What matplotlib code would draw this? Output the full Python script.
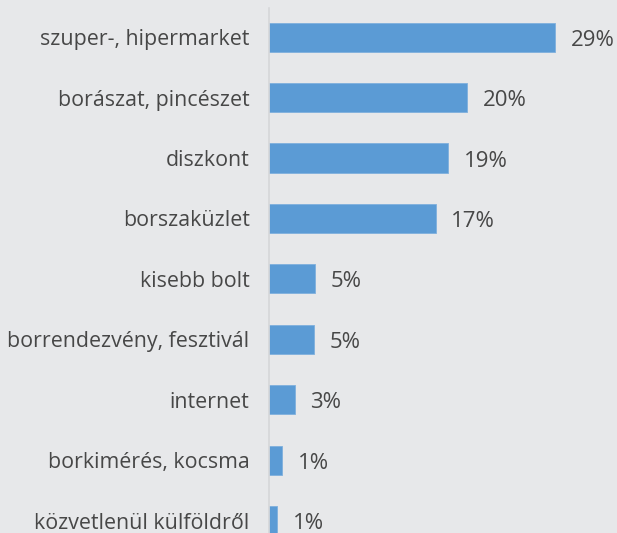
import matplotlib

matplotlib.use("Agg")
import matplotlib.pyplot as plt

categories = [
    "szuper-, hipermarket",
    "borászat, pincészet",
    "diszkont",
    "borszaküzlet",
    "kisebb bolt",
    "borrendezvény, fesztivál",
    "internet",
    "borkimérés, kocsma",
    "közvetlenül külföldről",
]
values = [29.0, 20.1, 18.2, 16.9, 4.7, 4.6, 2.6, 1.3, 0.8]
value_labels = ["29%", "20%", "19%", "17%", "5%", "5%", "3%", "1%", "1%"]

bg = "#E7E8EA"
bar_color = "#5B9BD5"
text_color = "#474747"

plt.rcParams["font.family"] = ["Open Sans", "DejaVu Sans"]

fig = plt.figure(figsize=(6.17, 5.33), dpi=100, facecolor=bg)
ax = fig.add_axes([269 / 617, 0.0, 1 - 269 / 617, 1 - 8 / 533])
ax.set_facecolor(bg)

pos = list(range(len(categories)))
ax.barh(pos, values, height=0.48, color=bar_color, edgecolor="#7FB0DD", linewidth=0.6)
ax.set_ylim(8.2, -0.48)
ax.set_xlim(0, 35.3)

for p, v, lab in zip(pos, values, value_labels):
    ax.text(v + 1.6, p + 0.05, lab, va="center", ha="left", fontsize=16, color=text_color)

ax.set_yticks(pos)
ax.set_yticklabels(categories, fontsize=15.4, color=text_color)
ax.tick_params(axis="y", length=0, pad=14)
ax.set_xticks([])
for s in ["top", "right", "bottom"]:
    ax.spines[s].set_visible(False)
ax.spines["left"].set_color("#D6D7D9")
ax.spines["left"].set_linewidth(1.2)

fig.savefig("out.png", dpi=100, facecolor=bg)
